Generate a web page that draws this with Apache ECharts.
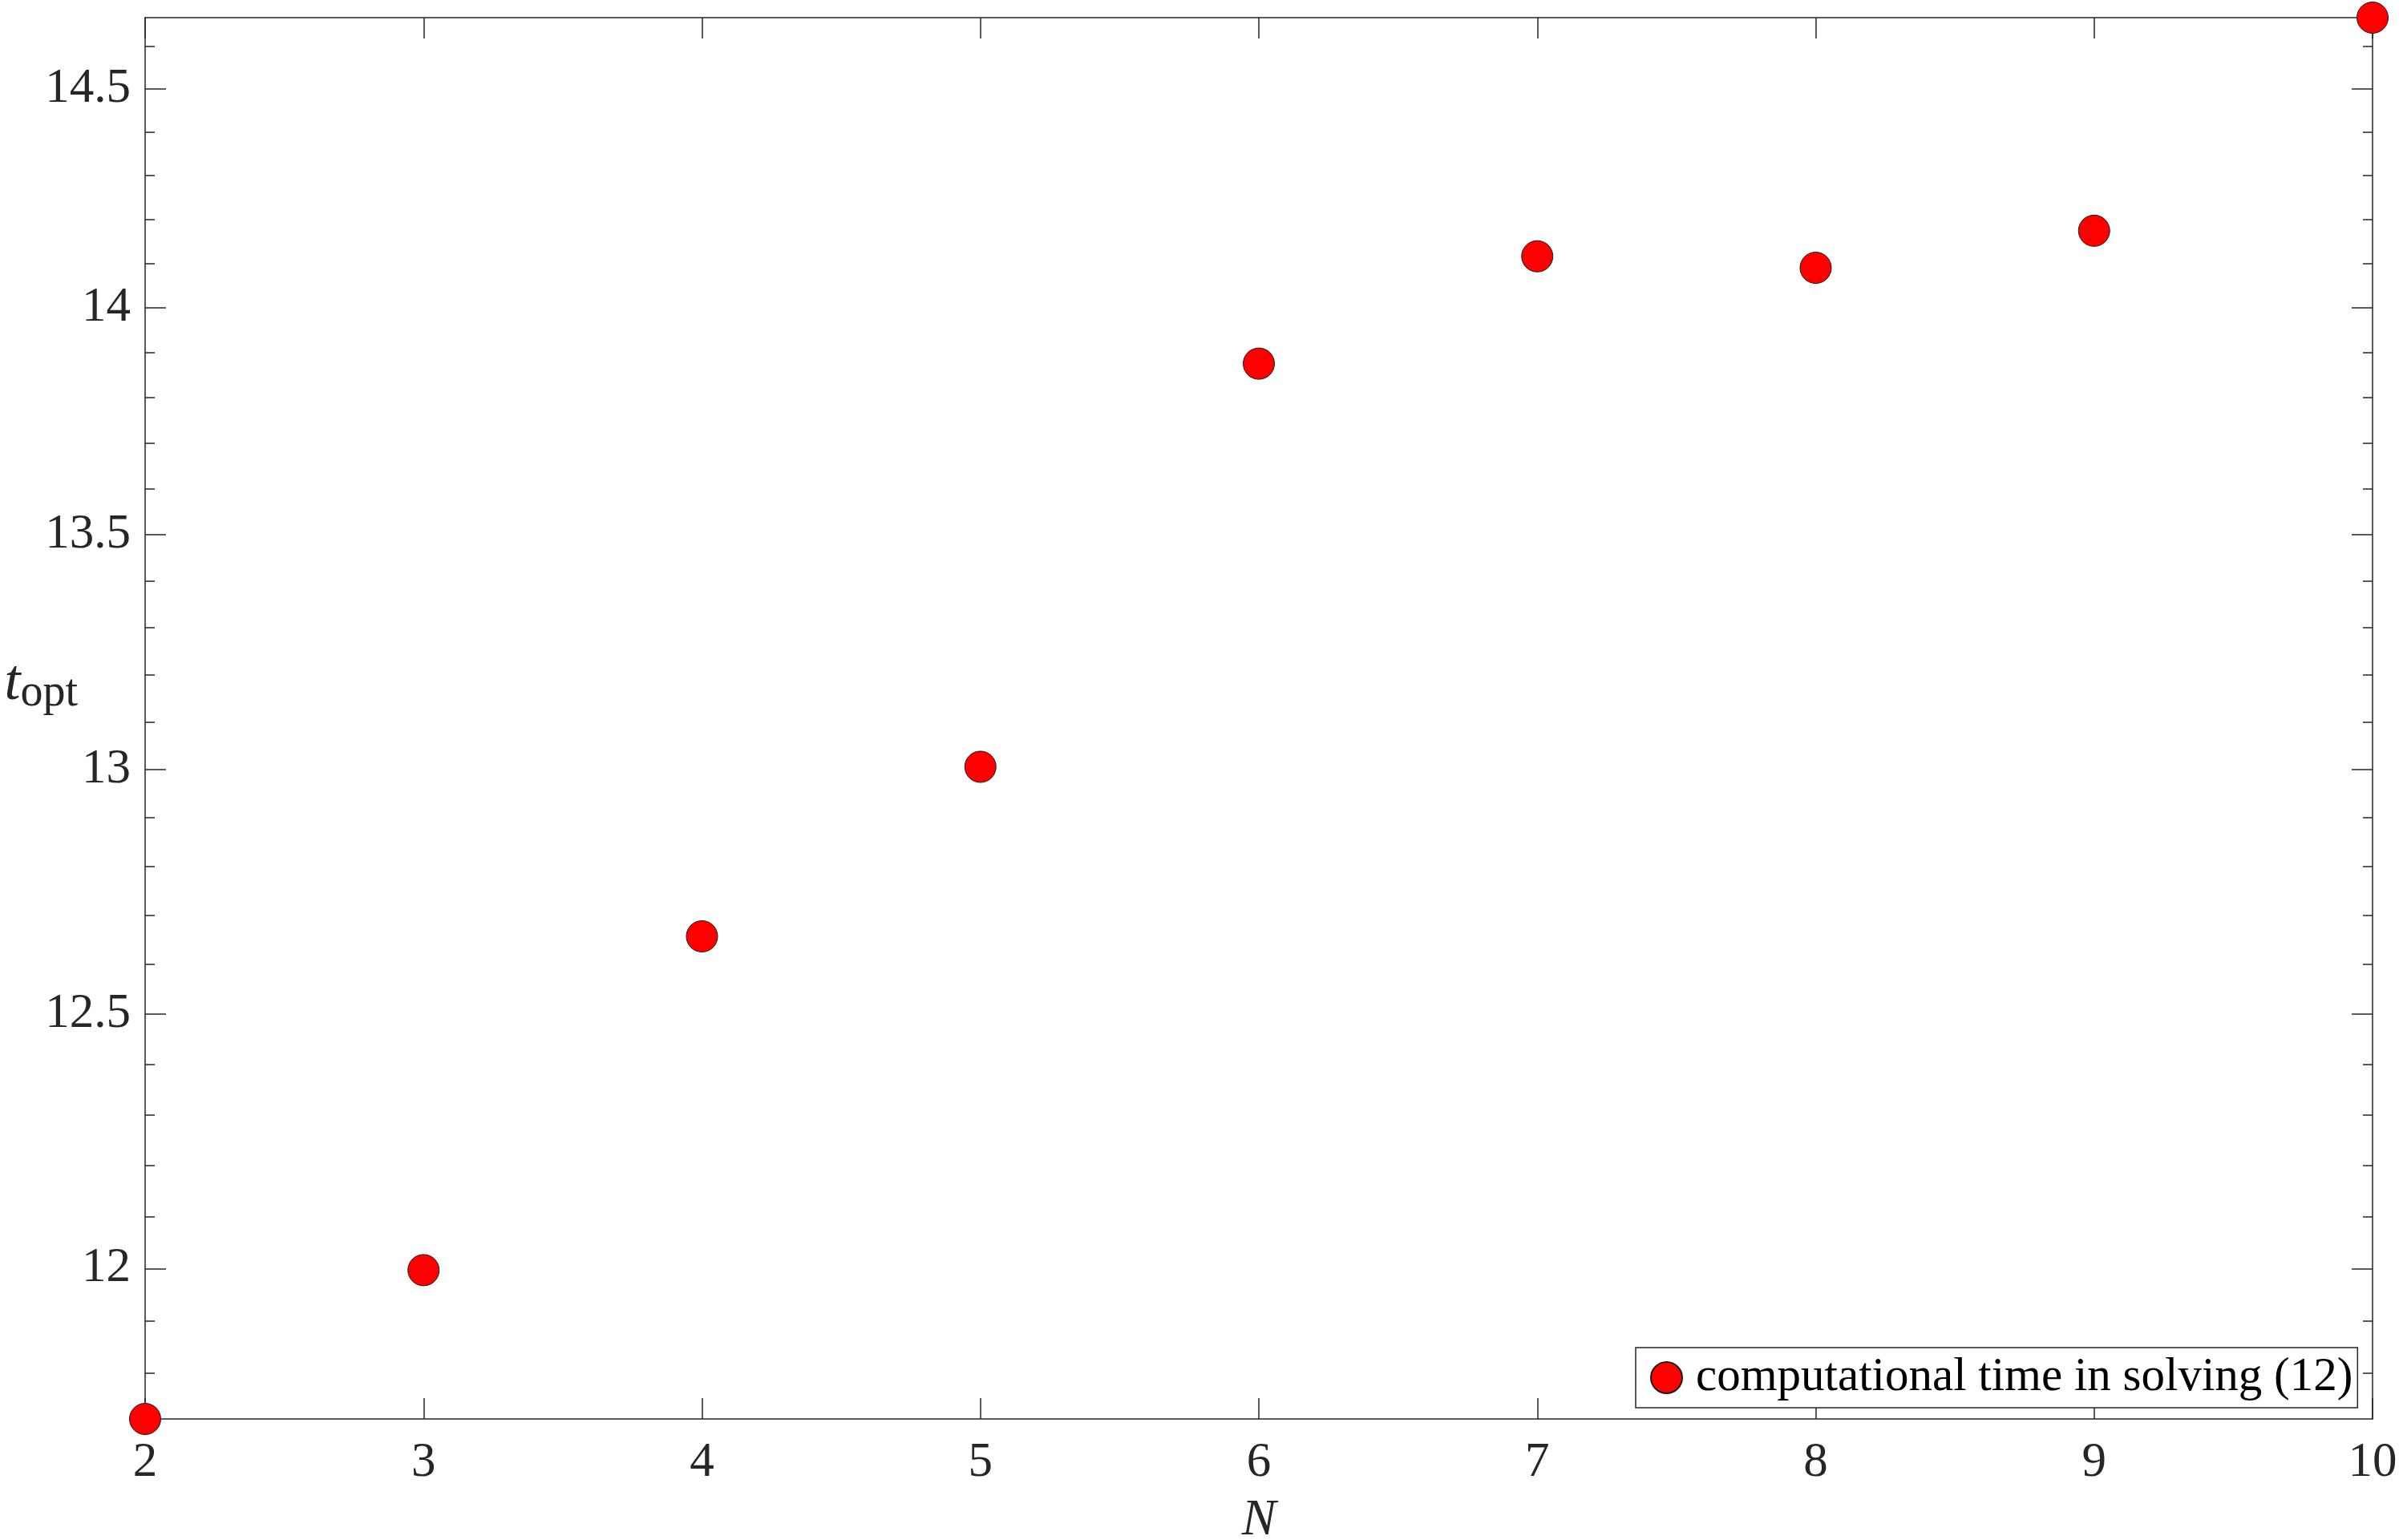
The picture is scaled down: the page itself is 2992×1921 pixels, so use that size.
<!DOCTYPE html>
<html>
<head>
<meta charset="utf-8">
<script src="https://cdn.jsdelivr.net/npm/echarts@6/dist/echarts.min.js"></script>
<style>
html,body{margin:0;padding:0;background:#fff;}
#chart{width:2992px;height:1921px;}
</style>
</head>
<body>
<div id="chart"></div>
<script>
// ---- data ----
const N = [2, 3, 4, 5, 6, 7, 8, 9, 10];
const tOpt = [11.714, 11.997, 12.657, 13.006, 13.875, 14.116, 14.090, 14.174, 14.667];
const yMajorTicks = [12, 12.5, 13, 13.5, 14, 14.5];
const yMinorTicks = [11.8, 11.9, 12.0, 12.1, 12.2, 12.3, 12.4, 12.5, 12.6, 12.7, 12.8, 12.9,
  13.0, 13.1, 13.2, 13.3, 13.4, 13.5, 13.6, 13.7, 13.8, 13.9, 14.0, 14.1, 14.2, 14.3, 14.4, 14.5, 14.6];
const seriesName = 'computational time in solving (12)';
const xMin = 2, xMax = 10;
const yMin = 11.714, yMax = 14.667;

const FONT = '"Liberation Serif", "DejaVu Serif", serif';
const AX = '#262626';

const chart = echarts.init(document.getElementById('chart'), null, {renderer: 'canvas'});

function fmt(v) { return String(Math.round(v * 10) / 10); }

function yAxisDef(position, ticks, len, labels, line) {
  return {
    type: 'log',
    logBase: 10,
    position: position,
    min: yMin,
    max: yMax,
    axisLine: {show: line, lineStyle: {color: AX, width: 1.5}},
    axisTick: {show: true, inside: true, length: len, customValues: ticks,
      lineStyle: {color: AX, width: 1.5}},
    axisLabel: labels ? {show: true, customValues: yMajorTicks, formatter: fmt,
      fontFamily: FONT, fontSize: 61, color: AX, margin: 18} : {show: false},
    splitLine: {show: false},
    minorTick: {show: false}
  };
}

const yAxes = [
  Object.assign(yAxisDef('left', yMajorTicks, 26, true, true), {
    name: '{t|t}{s|opt}',
    nameLocation: 'middle',
    nameRotate: 0,
    nameGap: 84,
    nameMoveOverlap: false,
    nameTextStyle: {
      padding: [0, 0, 86, 0],
      rich: {
        t: {fontFamily: FONT, fontStyle: 'italic', fontSize: 72, lineHeight: 80, color: AX},
        s: {fontFamily: FONT, fontSize: 56, lineHeight: 47, verticalAlign: 'bottom', color: AX}
      }
    }
  }),
  yAxisDef('left', yMinorTicks, 12, false, false),
  yAxisDef('right', yMajorTicks, 26, false, true),
  yAxisDef('right', yMinorTicks, 12, false, false)
];

const option = {
  animation: false,
  backgroundColor: '#ffffff',
  grid: {left: 181, top: 22, right: 33, bottom: 151, containLabel: false, outerBoundsMode: 'none'},
  legend: {
    show: true,
    data: [seriesName],
    orient: 'horizontal',
    left: 2040,
    top: 1681,
    padding: [8, 6, 8, 18],
    backgroundColor: '#ffffff',
    borderColor: AX,
    borderWidth: 1.5,
    borderRadius: 0,
    icon: 'circle',
    itemWidth: 39,
    itemHeight: 39,
    selectedMode: false,
    textStyle: {fontFamily: FONT, fontSize: 59, lineHeight: 39, color: '#000000', padding: [0, 0, 0, 12]},
    z: 100
  },
  xAxis: [
    {
      type: 'value', position: 'bottom', min: xMin, max: xMax, interval: 1,
      name: 'N', nameLocation: 'middle', nameGap: 95, nameMoveOverlap: false,
      nameTextStyle: {fontFamily: FONT, fontStyle: 'italic', fontSize: 64, color: AX},
      axisLine: {show: true, onZero: false, lineStyle: {color: AX, width: 1.5}},
      axisTick: {show: true, inside: true, length: 26, lineStyle: {color: AX, width: 1.5}},
      axisLabel: {show: true, fontFamily: FONT, fontSize: 61, color: AX, margin: 24},
      splitLine: {show: false}
    },
    {
      type: 'value', position: 'top', min: xMin, max: xMax, interval: 1,
      axisLine: {show: true, onZero: false, lineStyle: {color: AX, width: 1.5}},
      axisTick: {show: true, inside: true, length: 26, lineStyle: {color: AX, width: 1.5}},
      axisLabel: {show: false},
      splitLine: {show: false}
    }
  ],
  yAxis: yAxes,
  series: [{
    name: seriesName,
    type: 'scatter',
    xAxisIndex: 0,
    yAxisIndex: 0,
    clip: false,
    symbol: 'circle',
    symbolSize: 39,
    itemStyle: {color: '#ff0000', borderColor: '#1a1a1a', borderWidth: 1, opacity: 1},
    emphasis: {disabled: true},
    z: 10,
    data: N.map((n, i) => [n, tOpt[i]])
  }]
};

chart.setOption(option);
</script>
</body>
</html>
